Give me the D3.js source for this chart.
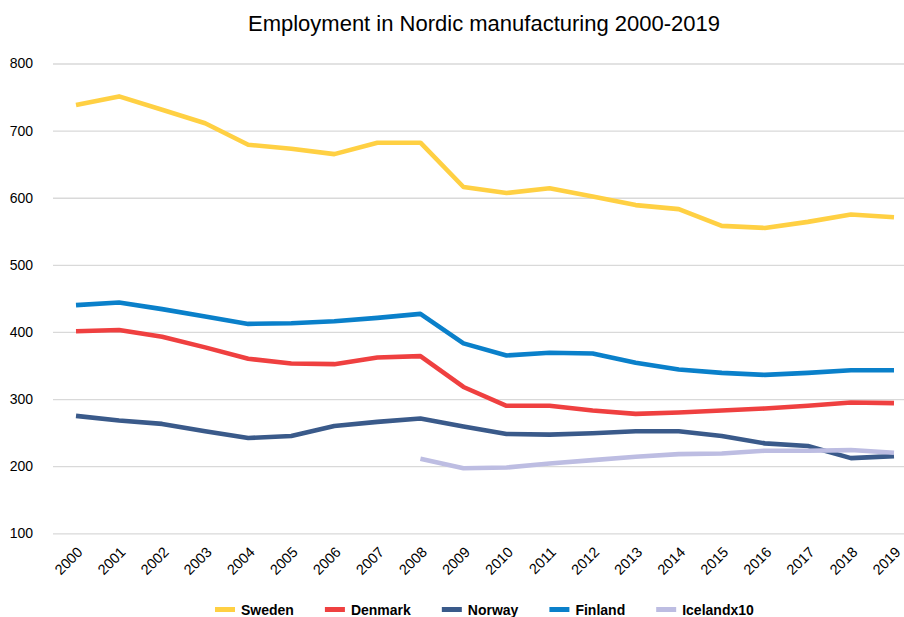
<!DOCTYPE html>
<html>
<head>
<meta charset="utf-8">
<script src="https://cdn.jsdelivr.net/npm/d3@7"></script>
<style>
  html, body { margin: 0; padding: 0; background: #fff; }
  svg { display: block; font-family: "Liberation Sans", Arial, sans-serif; }
</style>
</head>
<body>
<svg id="chart" width="904" height="617"></svg>
<script>
const years = ["2000","2001","2002","2003","2004","2005","2006","2007","2008","2009",
               "2010","2011","2012","2013","2014","2015","2016","2017","2018","2019"];
const yTicks = [100, 200, 300, 400, 500, 600, 700, 800];

const sweden  = [738, 751, 731, 711, 679, 673, 665, 682, 682, 616, 607, 614, 602, 589, 583, 558, 555, 564, 575, 571];
const denmark = [401, 403, 393, 377, 360, 353, 352, 362, 364, 318, 290, 290, 283, 278, 280, 283, 286, 290, 295, 294];
const norway  = [275, 268, 263, 252, 242, 245, 260, 266, 271, 259, 248, 247, 249, 252, 252, 245, 234, 230, 212, 215];
const finland = [440, 444, 434, 423, 412, 413, 416, 421, 427, 383, 365, 369, 368, 354, 344, 339, 336, 339, 343, 343];
const iceland = [null, null, null, null, null, null, null, null, 211, 197, 198, 204, 209, 214, 218, 219, 223, 223, 224, 220];

const seriesNames = ["Sweden", "Denmark", "Norway", "Finland", "Icelandx10"];
const seriesValues = [sweden, denmark, norway, finland, iceland];
const seriesColors = ["#FFD043", "#EF4040", "#3A5A8A", "#0A80CA", "#BDBDE2"];

const svg = d3.select("#chart");
const W = 904;

const x = d3.scalePoint().domain(years).range([76, 894]);
const y = d3.scaleLinear().domain([100, 800]).range([533.3, 63.5]);

// Title
svg.append("text")
  .attr("x", 484).attr("y", 31)
  .attr("text-anchor", "middle")
  .attr("font-size", "22px")
  .attr("fill", "#000")
  .text("Employment in Nordic manufacturing 2000-2019");

// Gridlines
const yAxis = d3.axisLeft(y).tickValues(yTicks).tickSize(-(W - 53)).tickPadding(20);
const gy = svg.append("g").attr("transform", "translate(53,0)").call(yAxis);
gy.select(".domain").remove();
gy.selectAll(".tick line").attr("stroke", "#d9d9d9").attr("stroke-width", 1.3);
gy.selectAll(".tick text")
  .attr("x", -20)
  .attr("font-size", "14px")
  .attr("font-family", "Liberation Sans, Arial, sans-serif")
  .attr("fill", "#000");

// X axis labels
const xAxis = d3.axisBottom(x).tickSize(0).tickPadding(0);
const gx = svg.append("g").attr("transform", "translate(0,541)").call(xAxis);
gx.select(".domain").remove();
gx.selectAll(".tick text")
  .attr("font-size", "14.5px")
  .attr("font-family", "Liberation Sans, Arial, sans-serif")
  .attr("fill", "#000")
  .attr("text-anchor", "end")
  .attr("dy", "0")
  .attr("y", 0)
  .attr("transform", "translate(7,12) rotate(-45)");

// Lines
const line = d3.line()
  .defined(d => d != null)
  .x((d, i) => x(years[i]))
  .y(d => y(d));

seriesValues.forEach((vals, k) => {
  svg.append("path")
    .datum(vals)
    .attr("fill", "none")
    .attr("stroke", seriesColors[k])
    .attr("stroke-width", 4.6)
    .attr("stroke-linejoin", "round")
    .attr("d", line);
});

// Legend
const lg = svg.append("g");
let lx = 215;
seriesNames.forEach((name, k) => {
  lg.append("rect")
    .attr("x", lx).attr("y", 607)
    .attr("width", 20).attr("height", 5)
    .attr("fill", seriesColors[k]);
  const t = lg.append("text")
    .attr("x", lx + 26).attr("y", 614.5)
    .attr("font-size", "14px")
    .attr("font-weight", "bold")
    .attr("fill", "#000")
    .text(name);
  lx += 26 + t.node().getComputedTextLength() + 31;
});
</script>
</body>
</html>
